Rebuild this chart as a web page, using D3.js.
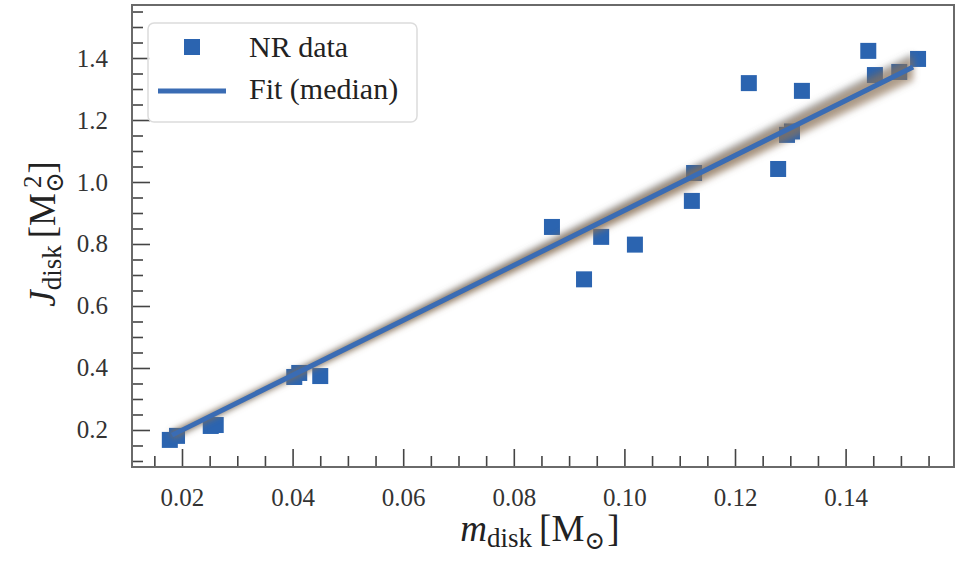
<!DOCTYPE html>
<html>
<head>
<meta charset="utf-8">
<script src="https://cdn.jsdelivr.net/npm/d3@7"></script>
<style>
  body { margin: 0; background: #fff; }
  svg { display: block; font-family: "Liberation Serif", "DejaVu Serif", serif; }
  svg text { font-family: "Liberation Serif", "DejaVu Serif", serif; }
</style>
</head>
<body>
<div id="graph"></div>
<script>
// NR data points (m_disk, J_disk)
const mDisk = [0.0178, 0.0191, 0.0252, 0.0261, 0.0403, 0.0412, 0.0450,
  0.0869, 0.0927, 0.0958, 0.1019, 0.1122, 0.1126, 0.1225, 0.1278,
  0.1294, 0.1303, 0.1321, 0.1441, 0.1453, 0.1497, 0.1531];
const jDisk = [0.168, 0.181, 0.213, 0.216, 0.371, 0.384, 0.374,
  0.855, 0.686, 0.823, 0.798, 0.939, 1.029, 1.319, 1.042,
  1.152, 1.163, 1.294, 1.423, 1.345, 1.355, 1.397];

// linear fit J = a*m + b : median and posterior samples
const fitMedian = { slope: 8.86, intercept: 0.0222 };
const sampleSlopes = [8.56, 8.63, 8.70, 8.77, 8.83, 8.89, 8.95, 9.02, 9.09, 9.16];
const sampleIntercepts = [0.0312, 0.0291, 0.0270, 0.0249, 0.0231, 0.0213, 0.0195, 0.0174, 0.0153, 0.0132];
const fitRange = [0.0182, 0.1522];

const xTicks = [0.02, 0.04, 0.06, 0.08, 0.10, 0.12, 0.14];
const yTicks = [0.2, 0.4, 0.6, 0.8, 1.0, 1.2, 1.4];

const W = 962, H = 562;
const m = { left: 132, right: 8, top: 5, bottom: 95 };

const svg = d3.select("#graph").append("svg")
  .attr("width", W).attr("height", H);

const x = d3.scaleLinear().domain([0.01096, 0.1596]).range([m.left, W - m.right]);
const y = d3.scaleLinear().domain([0.0806, 1.571]).range([H - m.bottom, m.top]);

const defs = svg.append("defs");
defs.append("filter").attr("id", "blur")
  .attr("x", "-20%").attr("y", "-20%").attr("width", "140%").attr("height", "140%")
  .append("feGaussianBlur").attr("stdDeviation", 3);
defs.append("clipPath").attr("id", "clip")
  .append("rect").attr("x", m.left).attr("y", m.top)
  .attr("width", W - m.left - m.right).attr("height", H - m.top - m.bottom);

const plot = svg.append("g").attr("clip-path", "url(#clip)");

// data squares
const sq = 16;
plot.append("g").selectAll("rect")
  .data(d3.zip(mDisk, jDisk))
  .join("rect")
  .attr("x", d => x(d[0]) - sq / 2)
  .attr("y", d => y(d[1]) - sq / 2)
  .attr("width", sq).attr("height", sq)
  .attr("fill", "#2b64b0");

// posterior sample band
const band = plot.append("g").attr("filter", "url(#blur)");
const fitLine = (a, b) => d3.line()(fitRange.map(v => [x(v), y(a * v + b)]));
sampleSlopes.forEach((a, i) => {
  band.append("path")
    .attr("d", fitLine(a, sampleIntercepts[i]))
    .attr("fill", "none")
    .attr("stroke", i % 3 === 1 ? "#d08a40" : "#666")
    .attr("stroke-opacity", 0.36)
    .attr("stroke-width", 6);
});

// median fit
plot.append("path")
  .attr("d", fitLine(fitMedian.slope, fitMedian.intercept))
  .attr("fill", "none")
  .attr("stroke", "#3a6cb4")
  .attr("stroke-width", 5);

// axes
const xMinor = d3.range(0.015, 0.1596, 0.005).filter(v => Math.abs(Math.round(v / 0.02) * 0.02 - v) > 1e-6);
const yMinor = d3.range(0.1, 1.571, 0.05).filter(v => Math.abs(Math.round(v / 0.2) * 0.2 - v) > 1e-6);

const axisColor = "#444";
const xAxis = svg.append("g").attr("transform", `translate(0,${H - m.bottom})`)
  .call(d3.axisBottom(x).tickValues(xTicks).tickFormat(d3.format(".2f")).tickSize(-18).tickPadding(21));
const xAxisMinor = svg.append("g").attr("transform", `translate(0,${H - m.bottom})`)
  .call(d3.axisBottom(x).tickValues(xMinor).tickFormat("").tickSize(-11));
const yAxis = svg.append("g").attr("transform", `translate(${m.left},0)`)
  .call(d3.axisLeft(y).tickValues(yTicks).tickFormat(d3.format(".1f")).tickSize(-18).tickPadding(24));
const yAxisMinor = svg.append("g").attr("transform", `translate(${m.left},0)`)
  .call(d3.axisLeft(y).tickValues(yMinor).tickFormat("").tickSize(-11));

[xAxis, xAxisMinor, yAxis, yAxisMinor].forEach(g => {
  g.attr("font-family", null).attr("font-size", null);
  g.select(".domain").remove();
  g.selectAll("line").attr("stroke", axisColor).attr("stroke-width", 1.6);
  g.selectAll("text").attr("fill", "#333")
    .style("font-size", "25px")
    .style("font-family", "'Liberation Serif', serif");
});

// frame
svg.append("rect")
  .attr("x", m.left).attr("y", m.top)
  .attr("width", W - m.left - m.right).attr("height", H - m.top - m.bottom)
  .attr("fill", "none").attr("stroke", "#6a6a6a").attr("stroke-width", 2);

// axis labels
const xl = svg.append("text")
  .attr("x", 540).attr("y", 541)
  .attr("text-anchor", "middle").attr("font-size", 37).attr("fill", "#222");
xl.append("tspan").attr("font-style", "italic").text("m");
xl.append("tspan").attr("font-size", 27).attr("dy", 6).text("disk");
xl.append("tspan").attr("dy", -6).attr("dx", 7).text("[M");
xl.append("tspan").attr("font-size", 25).attr("dy", 8).text("⊙");
xl.append("tspan").attr("dy", -8).attr("dx", 2).text("]");

const yl = svg.append("text")
  .attr("transform", "translate(55,234) rotate(-90)")
  .attr("text-anchor", "middle").attr("font-size", 37).attr("fill", "#222");
yl.append("tspan").attr("font-style", "italic").text("J");
yl.append("tspan").attr("font-size", 27).attr("dy", 6).text("disk");
yl.append("tspan").attr("dy", -6).attr("dx", 7).text("[M");
yl.append("tspan").attr("font-size", 25).attr("dy", 8).text("⊙");
yl.append("tspan").attr("font-size", 25).attr("dx", -16).attr("dy", -22).text("2");
yl.append("tspan").attr("dy", 14).attr("dx", 2).text("]");

// legend
const lg = svg.append("g");
lg.append("rect")
  .attr("x", 148).attr("y", 23).attr("width", 269).attr("height", 99).attr("rx", 6)
  .attr("fill", "#fff").attr("fill-opacity", 0.85)
  .attr("stroke", "#dcdcdc").attr("stroke-width", 1.5);
lg.append("rect")
  .attr("x", 192 - 8).attr("y", 47 - 8).attr("width", 16).attr("height", 16)
  .attr("fill", "#2b64b0");
lg.append("line")
  .attr("x1", 158).attr("x2", 226).attr("y1", 91).attr("y2", 91)
  .attr("stroke", "#3a6cb4").attr("stroke-width", 5);
lg.append("text").attr("x", 249).attr("y", 57)
  .attr("font-size", 30).attr("fill", "#222").text("NR data");
lg.append("text").attr("x", 249).attr("y", 99)
  .attr("font-size", 30).attr("fill", "#222").text("Fit (median)");
</script>
</body>
</html>
